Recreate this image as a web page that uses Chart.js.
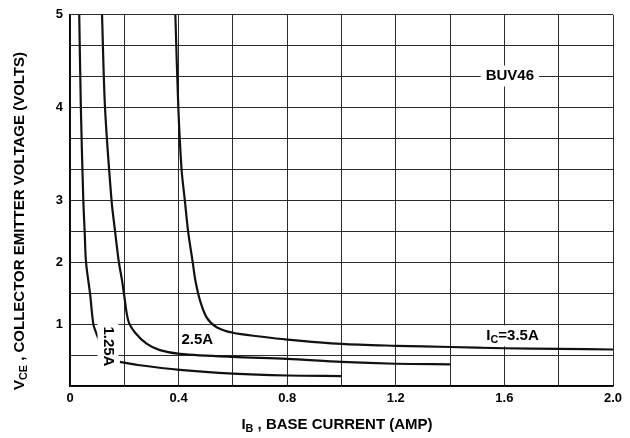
<!DOCTYPE html>
<html lang="en">
<head>
  <meta charset="UTF-8">
  <title>BUV46 Collector Emitter Voltage vs Base Current</title>
  <script src="https://cdn.jsdelivr.net/npm/chart.js"></script>
  <style>
    body {
      margin: 0;
      background: #fff;
    }
    #wrap {
      width: 630px;
      height: 438px;
    }
  </style>
</head>
<body>
  <div id="wrap">
    <canvas id="satChart" width="630" height="438"></canvas>
  </div>

  <script>
    // x ticks every 0.2 A, labels every 0.4 A
    const xTickLabels = ['0', '', '0.4', '', '0.8', '', '1.2', '', '1.6', '', '2.0'];
    // the datasheet grid is 0.5 V per row below 3 V, 1/3 V per row above
    const yTickVolts = [0, 0.5, 1, 1.5, 2, 2.5, 3, 10 / 3, 11 / 3, 4, 13 / 3, 14 / 3, 5];
    const yTickLabels = ['', '', '1', '', '2', '', '3', '', '', '4', '', '', '5'];

    // IC = 1.25 A (gap where the label sits)
    const ic125X = [0.034, 0.040, 0.049, 0.054, 0.059, 0.074, 0.086, 0.098, 0.110, 0.15, 0.184, 0.25, 0.405, 0.60, 0.80, 1.00];
    const ic125Y = [5.0, 4.0, 3.0, 2.5, 2.0, 1.49, 1.0, 0.84, 0.71, null, 0.39, 0.34, 0.26, 0.20, 0.17, 0.16];
    // IC = 2.5 A
    const ic25X = [0.118, 0.129, 0.153, 0.166, 0.180, 0.192, 0.200, 0.215, 0.240, 0.282, 0.331, 0.405, 0.60, 0.80, 1.0, 1.2, 1.4];
    const ic25Y = [5.0, 4.0, 3.0, 2.5, 2.0, 1.70, 1.45, 1.05, 0.86, 0.685, 0.58, 0.52, 0.47, 0.44, 0.39, 0.36, 0.35];
    // IC = 3.5 A
    const ic35X = [0.388, 0.399, 0.411, 0.423, 0.435, 0.452, 0.462, 0.479, 0.503, 0.540, 0.60, 0.70, 0.80, 1.0, 1.2, 1.4, 1.6, 1.8, 2.0];
    const ic35Y = [5.0, 4.0, 3.33, 3.0, 2.5, 2.0, 1.70, 1.38, 1.11, 0.95, 0.86, 0.80, 0.75, 0.68, 0.65, 0.63, 0.61, 0.60, 0.59];

    function voltToRow(v) {
      return v <= 3 ? v * 2 : 6 + (v - 3) * 3;
    }
    function rowToVolt(r) {
      return r <= 6 ? r / 2 : 3 + (r - 6) / 3;
    }

    // linear scale with the datasheet's broken spacing
    class VoltScale extends Chart.LinearScale {
      getPixelForValue(v) {
        if (v === null || v === undefined || isNaN(v)) return NaN;
        return this.getPixelForDecimal(voltToRow(v) / 12);
      }
      getValueForPixel(p) {
        return rowToVolt(this.getDecimalForPixel(p) * 12);
      }
    }
    VoltScale.id = 'volt';
    VoltScale.defaults = Chart.LinearScale.defaults;
    Chart.register(VoltScale);

    const fam = '"Liberation Sans", Arial, sans-serif';
    const font = (s) => `bold ${s}px ${fam}`;

    function pairs(xs, ys) {
      return xs.map((x, i) => ({ x: x, y: ys[i] }));
    }

    // draws text made of normal and subscript parts, centred at cx, cy
    function drawRich(ctx, parts, cx, cy, size, bg) {
      let w = 0;
      parts.forEach(p => {
        ctx.font = font(p.sub ? size * 0.72 : size);
        p.w = ctx.measureText(p.t).width;
        w += p.w;
      });
      if (bg) {
        ctx.fillStyle = '#fff';
        ctx.fillRect(cx - w / 2 - 5, cy - size * 0.7, w + 10, size * 1.4);
      }
      ctx.fillStyle = '#000';
      ctx.textBaseline = 'middle';
      ctx.textAlign = 'left';
      let x = cx - w / 2;
      parts.forEach(p => {
        ctx.font = font(p.sub ? size * 0.72 : size);
        ctx.fillText(p.t, x, cy + (p.sub ? size * 0.3 : 0));
        x += p.w;
      });
    }

    const textPlugin = {
      id: 'texts',
      afterDatasetsDraw(chart) {
        const ctx = chart.ctx;
        const xs = chart.scales.x, ys = chart.scales.y;
        ctx.save();

        drawRich(ctx, [{ t: 'BUV46' }], xs.getPixelForValue(1.62), ys.getPixelForValue(4.34), 15, true);
        drawRich(ctx, [{ t: '2.5A' }], xs.getPixelForValue(0.469), ys.getPixelForValue(0.74), 15, false);
        drawRich(ctx, [{ t: 'I' }, { t: 'C', sub: true }, { t: '=3.5A' }],
          xs.getPixelForValue(1.63), ys.getPixelForValue(0.81), 15, true);

        // rotated 1.25A label
        ctx.save();
        ctx.translate(xs.getPixelForValue(0.14), ys.getPixelForValue(0.64));
        ctx.rotate(Math.PI / 2);
        drawRich(ctx, [{ t: '1.25A' }], 0, 0, 15, true);
        ctx.restore();

        // axis titles
        drawRich(ctx, [{ t: 'I' }, { t: 'B', sub: true }, { t: ' , BASE CURRENT (AMP)' }], 337, 425, 15, false);
        ctx.save();
        ctx.translate(20, 221);
        ctx.rotate(-Math.PI / 2);
        drawRich(ctx, [{ t: 'V' }, { t: 'CE', sub: true }, { t: ' , COLLECTOR EMITTER VOLTAGE (VOLTS)' }], 0, 0, 15, false);
        ctx.restore();

        ctx.restore();
      }
    };

    const lineStyle = {
      borderColor: '#111',
      borderWidth: 2.2,
      pointRadius: 0,
      fill: false,
      tension: 0.3
    };

    const ctx = document.getElementById('satChart').getContext('2d');
    const satChart = new Chart(ctx, {
      type: 'line',
      data: {
        datasets: [
          Object.assign({ label: 'IC=1.25A', data: pairs(ic125X, ic125Y) }, lineStyle),
          Object.assign({ label: 'IC=2.5A', data: pairs(ic25X, ic25Y) }, lineStyle),
          Object.assign({ label: 'IC=3.5A', data: pairs(ic35X, ic35Y) }, lineStyle)
        ]
      },
      options: {
        responsive: false,
        animation: false,
        layout: {
          padding: { top: 12, right: 17, left: 0, bottom: 0 }
        },
        plugins: {
          legend: { display: false },
          tooltip: { enabled: false }
        },
        scales: {
          x: {
            type: 'linear',
            min: 0,
            max: 2,
            afterFit: (s) => { s.height = 52; },
            ticks: {
              stepSize: 0.2,
              autoSkip: false,
              maxRotation: 0,
              padding: 5,
              color: '#000',
              font: { family: fam, size: 13, weight: 'bold' },
              callback: (v, i) => xTickLabels[i]
            },
            grid: { color: '#2a2a2a', lineWidth: 1, drawTicks: false },
            border: { color: '#000', width: 1.5 }
          },
          y: {
            type: 'volt',
            min: 0,
            max: 5,
            afterFit: (s) => { s.width = 70; },
            afterBuildTicks: (s) => { s.ticks = yTickVolts.map(v => ({ value: v })); },
            ticks: {
              autoSkip: false,
              padding: 7,
              color: '#000',
              font: { family: fam, size: 13, weight: 'bold' },
              callback: (v, i) => yTickLabels[i]
            },
            grid: { color: '#2a2a2a', lineWidth: 1, drawTicks: false },
            border: { color: '#000', width: 1.5 }
          }
        }
      },
      plugins: [textPlugin]
    });
  </script>
</body>
</html>
